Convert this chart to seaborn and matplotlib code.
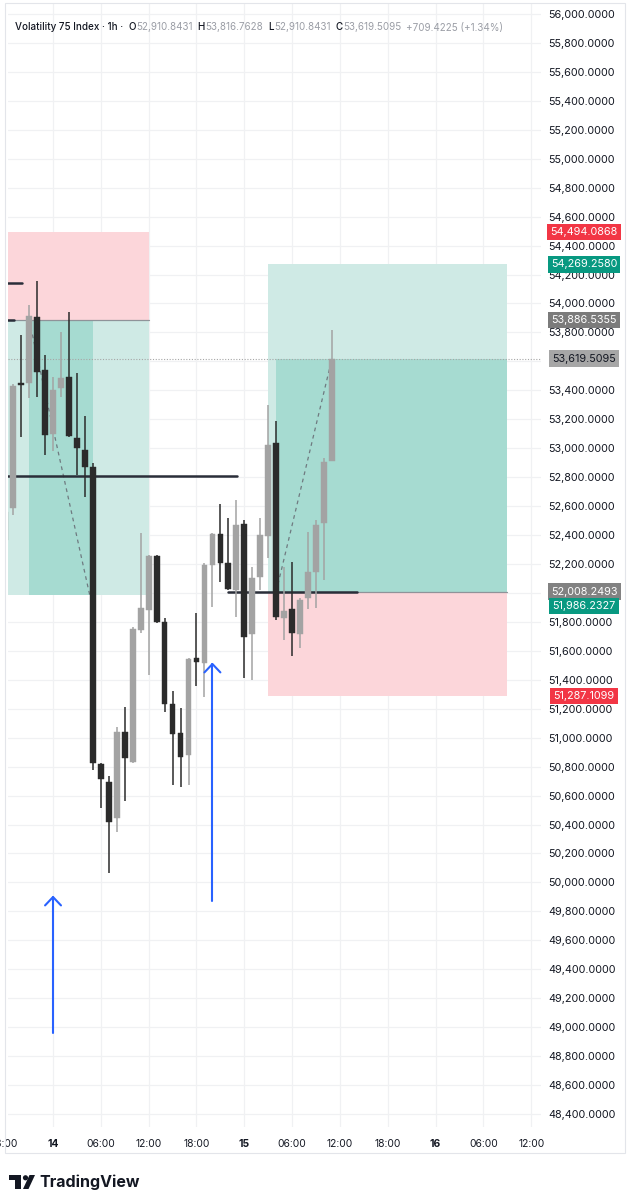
import numpy as np
import pandas as pd
import matplotlib

matplotlib.use("Agg")
import matplotlib.pyplot as plt
import matplotlib.transforms as mtransforms
from matplotlib.patches import Rectangle, Polygon, Circle
import seaborn as sns

# hourly candles, hour counted from the 14th 00:00
hours = list(range(-6, 36))
opens = [52366, 52585, 53447, 53449, 53909, 53540, 53098, 53416, 53492, 53069,
         52988, 52872, 50818, 50696, 50443, 51041, 50834, 51744, 51882, 52257,
         51801, 51231, 51035, 50880, 51549, 51514, 52193, 52407, 52209, 52020,
         52474, 51716, 52108, 52394, 53038, 51825, 51887, 51716, 51963, 52147,
         52481, 52910.8431]
highs = [52608, 53444, 53782, 53990, 54155, 53644, 53492, 53803, 53938, 53520,
         53225, 52896, 50827, 50735, 51076, 51214, 51763, 52414, 52264, 52262,
         51825, 51325, 51207, 51549, 51859, 52209, 52414, 52613, 52516, 52642,
         52504, 52181, 52516, 53299, 53190, 52181, 52216, 51965, 52423, 52504,
         52930, 53816.7628]
lows = [52311, 52539, 53078, 53349, 53356, 52953, 52981, 53354, 53078, 52815,
        52665, 50777, 50512, 50067, 50351, 50565, 50827, 51723, 51433, 51792,
        51180, 50673, 50657, 50673, 51359, 51283, 51903, 52078, 52020, 51836,
        51412, 51399, 52020, 52239, 51813, 51675, 51564, 51620, 51887, 51896,
        52090, 52910.8431]
closes = [52559, 53430, 53440, 53916, 53529, 53091, 53402, 53485, 53087, 53004,
          52872, 50823, 50713, 50420, 51041, 50858, 51749, 51894, 52257, 51801,
          51231, 51026, 50869, 51542, 51521, 52193, 52407, 52209, 52025, 52470,
          51698, 52101, 52400, 53022, 51836, 51877, 51721, 51951, 52147, 52470,
          52907, 53619.5095]

price_ticks = list(range(48400, 56001, 200))
time_ticks = [-6, 0, 6, 12, 18, 24, 30, 36, 42, 48, 54, 60]
time_labels = ["18:00", "14", "06:00", "12:00", "18:00", "15", "06:00",
               "12:00", "18:00", "16", "06:00", "12:00"]
day_labels = ["14", "15", "16"]

# short position tool: hours, stop / entry / target, filled part
short_hours = [-8, 12.05]
short_prices = [54494.0868, 53886.5355, 51986.2327]
short_fill_hours = [-3, 5]
# long position tool
long_hours = [27, 57]
long_prices = [54269.2580, 52008.2493, 51287.1099]
long_fill_hours = [28, 57]
last_price = 53619.5095

# trade path lines (dashed)
trade_hours = [[-3, 4.6], [28, 35]]
trade_prices = [[53886.5355, 51986.2327], [52008.2493, 53619.5095]]

# drawn horizontal levels
level_prices = [52810, 52008.2493, 54141, 53886.5355]
level_start = [-8, 22, -8, -8]
level_end = [23.1, 38.2, -3.9, -4.9]

# blue arrows
arrow_hours = [0, 20]
arrow_tail = [48960, 49874]
arrow_tip = [49899, 51509]

# price scale tags (shift in pixels where tags would collide)
tag_prices = [54494.0868, 54269.2580, 53886.5355, 53619.5095,
              52008.2493, 51986.2327, 51287.1099]
tag_shift = [0, 0, 0, 0, 0, -11, 0]
tag_colors = ["#f23645", "#089981", "#7b7b7b", "#a6a6a6",
              "#828282", "#089981", "#f23645"]
tag_text_colors = ["white", "white", "white", "#131722",
                   "white", "white", "white"]

# legend line: text, colour, gap after it in pixels
header_parts = [
    ("Volatility 75 Index · 1h ·", "#131722", 5),
    ("O", "#131722", 0.5), ("52,910.8431", "#9b9ea6", 5),
    ("H", "#131722", 0.5), ("53,816.7628", "#9b9ea6", 5),
    ("L", "#131722", 0.5), ("52,910.8431", "#9b9ea6", 5),
    ("C", "#131722", 0.5), ("53,619.5095", "#9b9ea6", 5),
    ("+709.4225 (+1.34%)", "#9b9ea6", 0),
]

sns.set_theme(style="white")
plt.rcParams["font.family"] = ["Inter", "DejaVu Sans"]

W, H = 632, 1200
fig = plt.figure(figsize=(W / 100, H / 100), dpi=100)
fig.patch.set_facecolor("white")
ax = fig.add_axes([8 / W, 1 - 1127 / H, 533 / W, 1124 / H])
ax.set_xlim(-5.65, 61.23)
ax.set_ylim(48310, 56076)
for s in ax.spines.values():
    s.set_visible(False)


def price_fmt(v, _):
    # labels covered by a coloured tag are not shown on the scale
    if any(abs(v - p) < 50 for p in tag_prices):
        return ""
    return f"{v:,.4f}"


ax.set_xticks(time_ticks[1:])
ax.set_xticklabels([])
ax.set_yticks(price_ticks)
ax.yaxis.tick_right()
ax.yaxis.set_major_formatter(matplotlib.ticker.FuncFormatter(price_fmt))
ax.tick_params(axis="x", length=0)
ax.tick_params(axis="y", length=0, pad=5, labelsize=7.8, labelcolor="#131722")
ax.grid(True, color="#f0f1f3", lw=0.9)
ax.set_axisbelow(True)

# position boxes
sh0, sh1 = short_hours
ax.add_patch(Rectangle((sh0, short_prices[1]), sh1 - sh0, short_prices[0] - short_prices[1],
                       fc="#fcd6da", ec="none", zorder=1))
ax.add_patch(Rectangle((sh0, short_prices[2]), sh1 - sh0, short_prices[1] - short_prices[2],
                       fc="#cfeae5", ec="none", zorder=1))
ax.add_patch(Rectangle((short_fill_hours[0], short_prices[2]), short_fill_hours[1] - short_fill_hours[0],
                       short_prices[1] - short_prices[2], fc="#a6dbd1", ec="none", zorder=1.1))
ax.plot(short_hours, [short_prices[1]] * 2, color="#8f9399", lw=0.9, zorder=1.2)

lh0, lh1 = long_hours
ax.add_patch(Rectangle((lh0, long_prices[1]), lh1 - lh0, long_prices[0] - long_prices[1],
                       fc="#cfeae5", ec="none", zorder=1))
ax.add_patch(Rectangle((lh0, long_prices[2]), lh1 - lh0, long_prices[1] - long_prices[2],
                       fc="#fcd6da", ec="none", zorder=1))
ax.add_patch(Rectangle((long_fill_hours[0], long_prices[1]), long_fill_hours[1] - long_fill_hours[0],
                       last_price - long_prices[1], fc="#a6dbd1", ec="none", zorder=1.1))
ax.plot(long_hours, [long_prices[1]] * 2, color="#8f9399", lw=0.9, zorder=1.2)

for hx, py in zip(trade_hours, trade_prices):
    ax.plot(hx, py, color="#6f7a80", lw=0.9, ls=(0, (3, 3)), zorder=2)

for p, a, b in zip(level_prices, level_start, level_end):
    ax.plot([a, b], [p, p], color="#2a2e39", lw=1.8, zorder=3)

ax.axhline(last_price, color="#a6a6a6", lw=0.8, ls=(0, (1, 1.5)), zorder=2)

# candles
df = pd.DataFrame({"hour": hours, "open": opens, "high": highs, "low": lows, "close": closes})
up = df["close"] >= df["open"]
colors = np.where(up, "#a3a3a3", "#2b2b2b")
ax.vlines(df["hour"], df["low"], df["high"], colors=colors, lw=1.1, zorder=4)
ax.bar(df["hour"], (df["close"] - df["open"]).abs().clip(lower=10),
       bottom=df[["open", "close"]].min(axis=1), width=0.72, color=colors,
       edgecolor=colors, linewidth=0.3, zorder=5)

# arrows
for hx, p0, p1 in zip(arrow_hours, arrow_tail, arrow_tip):
    ax.plot([hx, hx], [p0, p1], color="#2962ff", lw=1.5, zorder=6)
    ax.plot([hx - 1, hx, hx + 1], [p1 - 58, p1, p1 - 58], color="#2962ff", lw=1.5, zorder=6)

# price tags on the scale
tag_trans = mtransforms.blended_transform_factory(ax.transAxes, ax.transData)
for p, dy, fc, tc in zip(tag_prices, tag_shift, tag_colors, tag_text_colors):
    off = mtransforms.offset_copy(tag_trans, fig=fig, x=0, y=dy, units="dots")
    ax.text(1.0807, p, f"{p:,.4f}", transform=off, ha="center", va="center",
            fontsize=7.8, color=tc, zorder=10, clip_on=False,
            bbox=dict(boxstyle="square,pad=0.3", fc=fc, ec="none"))

# overlay in pixel units
pix = fig.add_axes([0, 0, 1, 1], zorder=5)
pix.set_xlim(0, W)
pix.set_ylim(H, 0)
pix.axis("off")
pix.patch.set_alpha(0)

pix.add_patch(Rectangle((5, 3), 620, 1150, fc="none", ec="#e3e5ea", lw=0.8))

time_trans = mtransforms.blended_transform_factory(ax.transData, pix.transData)
for t, lab in zip(time_ticks, time_labels):
    ax.text(t, 1144, lab, transform=time_trans, ha="center", va="center", fontsize=7.4,
            color="#131722", fontweight="bold" if lab in day_labels else "normal", clip_on=False)

renderer = fig.canvas.get_renderer()
x = 15
for txt, col, gap in header_parts:
    tt = pix.text(x, 27.5, txt, color=col, fontsize=7.1, ha="left", va="center",
                  fontweight="medium" if col == "#131722" else "normal")
    x += tt.get_window_extent(renderer).width + gap

# TradingView logo
pix.add_patch(Rectangle((9, 1175), 11.5, 5, fc="#131722", ec="none"))
pix.add_patch(Rectangle((15, 1175), 5.5, 14, fc="#131722", ec="none"))
pix.add_patch(Circle((25.5, 1177.8), 2.6, fc="#131722", ec="none"))
pix.add_patch(Polygon([(23, 1189), (28.5, 1189), (35, 1175), (29.5, 1175)], fc="#131722", ec="none"))
pix.text(39, 1182.5, "TradingView", fontsize=11.5, fontweight="bold", color="#131722",
         ha="left", va="center")

fig.savefig("out.png", dpi=100, facecolor="white")
